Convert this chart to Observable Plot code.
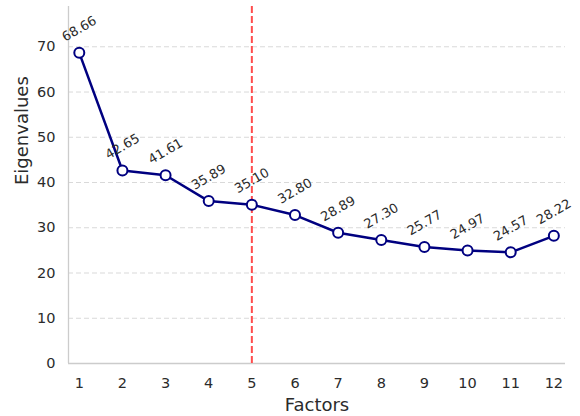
<!DOCTYPE html>
<html>
<head>
<meta charset="utf-8">
<script src="https://cdn.jsdelivr.net/npm/d3@7"></script>
<script src="https://cdn.jsdelivr.net/npm/@observablehq/plot@0.6"></script>
<style>
  html, body { margin: 0; padding: 0; background: #fff; }
  svg { font-family: "DejaVu Sans", sans-serif; }
  svg g[aria-label="x-axis tick label"], svg g[aria-label="y-axis tick label"] { font-size: 14.5px; fill: #2b2b2b; }
</style>
</head>
<body>
<div id="chart"></div>
<script>
const factors = [1, 2, 3, 4, 5, 6, 7, 8, 9, 10, 11, 12];
const eigenvalues = [68.66, 42.65, 41.61, 35.89, 35.10, 32.80, 28.89, 27.30, 25.77, 24.97, 24.57, 28.22];
const yTicks = [0, 10, 20, 30, 40, 50, 60, 70];
const cutoff = 5;

const data = factors.map((f, i) => ({factor: f, value: eigenvalues[i]}));
const xDomain = [0.75, 12.27];
const yDomain = [0, 78.9];

const chart = Plot.plot({
  width: 580,
  height: 416,
  marginLeft: 68,
  marginRight: 15,
  marginTop: 6,
  marginBottom: 53,
  x: {domain: xDomain},
  y: {domain: yDomain},
  style: {fontFamily: "DejaVu Sans, sans-serif", color: "#2b2b2b"},
  marks: [
    Plot.gridY(yTicks.filter(d => d > 0), {stroke: "#d9d9d9", strokeOpacity: 1, strokeWidth: 1, strokeDasharray: "5,3"}),
    Plot.ruleX([xDomain[0]], {y1: yDomain[0], y2: yDomain[1], stroke: "#cccccc", strokeWidth: 1.3}),
    Plot.ruleY([0], {x1: xDomain[0], x2: xDomain[1], stroke: "#cccccc", strokeWidth: 1.3}),
    Plot.axisX({ticks: factors, tickSize: 0, tickPadding: 14, fontSize: 14.5, tickFormat: d => String(d), label: null}),
    Plot.axisY({ticks: yTicks, tickSize: 0, tickPadding: 13, fontSize: 14.5, label: null}),
    Plot.ruleX([cutoff], {stroke: "#ff4d4d", strokeWidth: 2, strokeDasharray: "7,3"}),
    Plot.line(data, {x: "factor", y: "value", stroke: "#000080", strokeWidth: 2.5}),
    Plot.dot(data, {x: "factor", y: "value", r: 5, fill: "white", stroke: "#000080", strokeWidth: 2}),
    Plot.text(data, {x: "factor", y: "value", text: d => d.value.toFixed(2), rotate: -30, dy: -24, textAnchor: "middle", lineAnchor: "middle", fontSize: 13, fill: "#2b2b2b"}),
    Plot.text(["Eigenvalues"], {frameAnchor: "left", dx: -46, rotate: -90, fontSize: 18, fill: "#2b2b2b", lineAnchor: "middle"}),
    Plot.text(["Factors"], {frameAnchor: "bottom", dy: 42, fontSize: 18, fill: "#2b2b2b", lineAnchor: "middle"})
  ]
});
document.getElementById("chart").appendChild(chart);
</script>
</body>
</html>
